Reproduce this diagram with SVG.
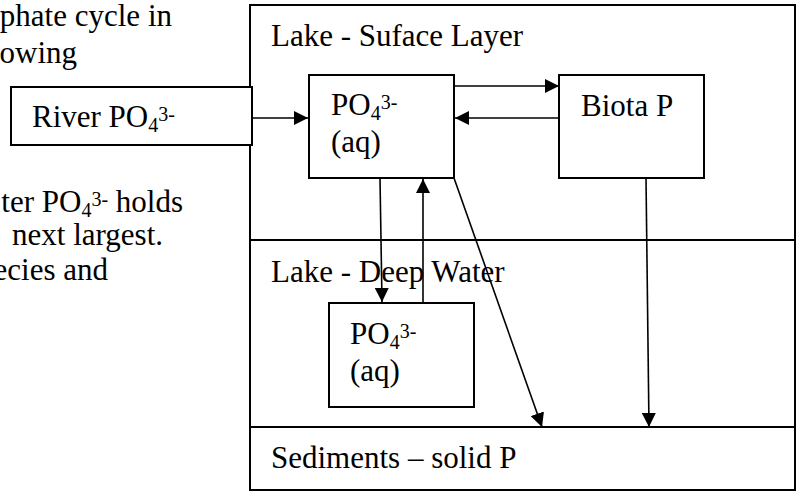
<svg xmlns="http://www.w3.org/2000/svg" width="797" height="493" viewBox="0 0 797 493">
  <style>
    .t { font-family: 'Liberation Serif', 'Times New Roman', Tinos, 'DejaVu Serif', serif; font-size: 31px; fill: #000; }
    .s { font-size: 20px; }
    .box { fill: #fff; stroke: #000; stroke-width: 2; }
    .div { stroke: #000; stroke-width: 2; fill: none; }
    .con { stroke: #000; stroke-width: 1.6; fill: none; marker-end: url(#ah); }
  </style>
  <defs>
    <marker id="ah" markerUnits="userSpaceOnUse" markerWidth="14" markerHeight="14" refX="14" refY="7" orient="auto">
      <path d="M0,0 L14,7 L0,14 z" fill="#000"/>
    </marker>
  </defs>
  <rect width="797" height="493" fill="#fff"/>

  <g id="background-text" font-family="Liberation Serif, serif">
    <text class="t" x="172" y="26" text-anchor="end">phate cycle in</text>
    <text class="t" x="77" y="63" text-anchor="end">owing</text>
    <text class="t" x="183" y="212" text-anchor="end">ter PO<tspan class="s" dy="5">4</tspan><tspan class="s" dy="-11">3-</tspan><tspan dy="6"> holds</tspan></text>
    <text class="t" x="163" y="245" text-anchor="end">next largest.</text>
    <text class="t" x="108" y="280" text-anchor="end">ecies and</text>
  </g>

  <g id="lake">
    <rect class="box" x="250" y="5" width="545" height="485"/>
    <line class="div" x1="250" y1="240" x2="795" y2="240"/>
    <line class="div" x1="250" y1="427" x2="795" y2="427"/>
  </g>

  <g id="surface-layer">
    <text class="t" x="271" y="46">Lake - Suface Layer</text>
  </g>
  <g id="deep-water">
    <text class="t" x="271" y="282">Lake - Deep Water</text>
  </g>
  <g id="sediments">
    <text class="t" x="271" y="468">Sediments – solid P</text>
  </g>

  <g id="river">
    <rect class="box" x="11" y="87" width="241" height="58"/>
    <text class="t" x="32" y="127">River PO<tspan class="s" dy="5">4</tspan><tspan class="s" dy="-11">3-</tspan></text>
  </g>

  <g id="surface-po4">
    <rect class="box" x="309" y="75" width="145" height="103"/>
    <text class="t" x="331" y="115">PO<tspan class="s" dy="5">4</tspan><tspan class="s" dy="-11">3-</tspan></text>
    <text class="t" x="331" y="152">(aq)</text>
  </g>

  <g id="biota">
    <rect class="box" x="559" y="75" width="145" height="103"/>
    <text class="t" x="581" y="116">Biota P</text>
  </g>

  <g id="deep-po4">
    <rect class="box" x="329" y="303" width="145" height="104"/>
    <text class="t" x="350" y="344">PO<tspan class="s" dy="5">4</tspan><tspan class="s" dy="-11">3-</tspan></text>
    <text class="t" x="350" y="381">(aq)</text>
  </g>

  <g id="connectors">
    <line class="con" x1="252" y1="118" x2="308" y2="118"/>
    <line class="con" x1="455" y1="86" x2="559" y2="86"/>
    <line class="con" x1="559" y1="118" x2="455" y2="118"/>
    <line class="con" x1="380" y1="178" x2="382" y2="302"/>
    <line class="con" x1="423" y1="303" x2="423" y2="179"/>
    <line class="con" x1="454" y1="178" x2="542" y2="427"/>
    <line class="con" x1="646" y1="178" x2="649" y2="427"/>
  </g>
</svg>
